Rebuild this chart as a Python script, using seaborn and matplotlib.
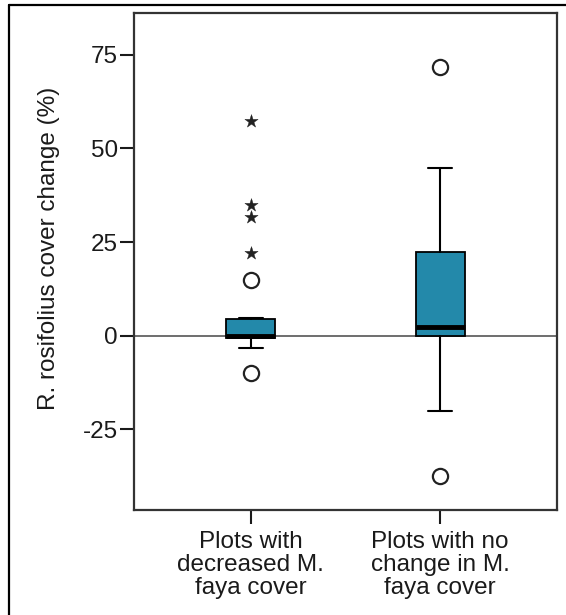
import numpy as np
import pandas as pd
import seaborn as sns
import matplotlib.pyplot as plt
from matplotlib.lines import Line2D

# two groups of plots
groups = ['Plots with\ndecreased M.\nfaya cover', 'Plots with no\nchange in M.\nfaya cover']

# box stats (SPSS style boxplot)
q1 = [-0.6, 0.0]
med = [0.0, 2.4]
q3 = [4.5, 22.4]
whislo = [-3.2, -20.1]
whishi = [4.8, 44.9]

# outliers: circles = 1.5-3 IQR, stars = extreme (>3 IQR)
circle_grp = [0, 0, 1, 1]
circle_val = [14.9, -10.0, 71.8, -37.6]
star_grp = [0, 0, 0, 0]
star_val = [57.4, 34.9, 31.8, 22.0]

box_color = '#2389AA'
fs = 17.5

sns.set_style('white')
plt.rcParams['font.family'] = ['Liberation Sans', 'DejaVu Sans']

fig = plt.figure(figsize=(5.66, 6.15), dpi=100)
ax = fig.add_axes([0.2367, 0.170, 0.7473, 0.809])

# reference line at zero
ax.axhline(0, color='#555555', lw=1.2, zorder=1)

stats = []
for i in range(len(groups)):
    stats.append(dict(q1=q1[i], med=med[i], q3=q3[i],
                      whislo=whislo[i], whishi=whishi[i], fliers=[]))

ax.bxp(stats, positions=range(len(groups)), widths=0.26, capwidths=0.126,
       patch_artist=True, showfliers=False,
       boxprops=dict(facecolor=box_color, edgecolor='black', lw=1.3),
       medianprops=dict(color='black', lw=3.5, solid_capstyle='butt'),
       whiskerprops=dict(color='black', lw=1.5),
       capprops=dict(color='black', lw=1.5))

df_c = pd.DataFrame({'x': circle_grp, 'y': circle_val})
df_s = pd.DataFrame({'x': star_grp, 'y': star_val})
sns.scatterplot(data=df_c, x='x', y='y', ax=ax, marker='o', s=120,
                facecolor='white', edgecolor='#222222', linewidth=1.6, zorder=3)
sns.scatterplot(data=df_s, x='x', y='y', ax=ax, marker='*', s=100,
                color='#222222', edgecolor='#222222', linewidth=0.3, zorder=3)

ax.set_xlim(-0.616, 1.616)
ax.set_ylim(-46.7, 86.2)
ax.set_yticks([-25, 0, 25, 50, 75])
ax.set_yticklabels(['-25', '0', '25', '50', '75'])
ax.set_xticks(range(len(groups)))
ax.set_xticklabels(groups, linespacing=1.05)

ax.tick_params(axis='both', labelsize=fs, colors='#1a1a1a', length=10, width=1.5,
               direction='out', left=True, bottom=True)
ax.tick_params(axis='y', pad=1.5)
ax.tick_params(axis='x', pad=5)

ax.set_xlabel('')
ax.set_ylabel('R. rosifolius cover change (%)', fontsize=fs, color='#1a1a1a')
ax.yaxis.set_label_coords(-0.175, 0.526)

for sp in ax.spines.values():
    sp.set_visible(True)
    sp.set_color('#333333')
    sp.set_linewidth(1.6)

# outer frame lines (left and top only)
fig.add_artist(Line2D([9 / 566, 9 / 566], [0, 1 - 5 / 615], transform=fig.transFigure,
                      color='black', lw=1.6))
fig.add_artist(Line2D([9 / 566, 1], [1 - 5 / 615, 1 - 5 / 615], transform=fig.transFigure,
                      color='black', lw=1.6))

fig.savefig('out.png', dpi=100)
